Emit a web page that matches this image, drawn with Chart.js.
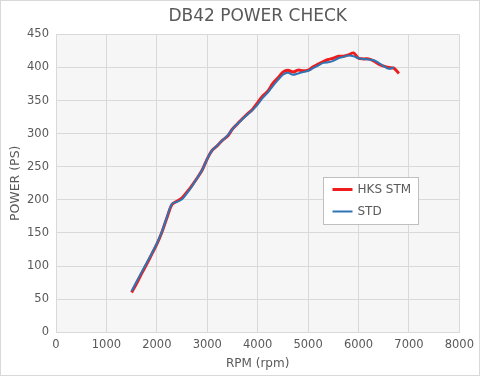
<!DOCTYPE html>
<html>
<head>
<meta charset="utf-8">
<script src="https://cdn.jsdelivr.net/npm/chart.js@4"></script>
<style>
html,body{margin:0;padding:0;background:#fff;}
#wrap{width:480px;height:376px;position:relative;}
</style>
</head>
<body>
<div id="wrap"><canvas id="c" width="480" height="376"></canvas></div>
<script>
const TITLE = "DB42 POWER CHECK";
const X_TITLE = "RPM (rpm)";
const Y_TITLE = "POWER (PS)";
const SERIES_NAMES = ["HKS STM", "STD"];

const rpmHKS = [1500,1600,1700,1800,1900,2000,2100,2200,2300,2400,2500,2600,2700,2800,2900,3000,3100,3200,3300,3400,3500,3600,3700,3800,3900,4000,4100,4200,4300,4400,4500,4600,4700,4800,4900,5000,5100,5200,5300,5400,5500,5600,5700,5800,5900,6000,6100,6200,6300,6400,6500,6600,6700,6800];
const psHKS  = [60,74,89,103,118,133,151,173,193,198,203,212,222,233,245,262,275,282,290,296,307,315,323,330,337,347,357,364,376,384,393,396,393,396,395,396,401,405,409,412,414,417,417,419,422,414,413,413,410,405,402,400,399,391];

const rpmSTD = [1500,1600,1700,1800,1900,2000,2100,2200,2300,2400,2500,2600,2700,2800,2900,3000,3100,3200,3300,3400,3500,3600,3700,3800,3900,4000,4100,4200,4300,4400,4500,4600,4700,4800,4900,5000,5100,5200,5300,5400,5500,5600,5700,5800,5900,6000,6100,6200,6300,6400,6500,6600,6700];
const psSTD  = [62,77,91,105,119,134,152,174,194,197,201,210,221,233,245,262,275,282,290,297,307,315,322,329,336,344,354,362,372,381,389,392,389,391,393,395,399,403,407,408,410,414,416,418,417,414,413,412,411,407,402,398,400];

const X_MIN = 0, X_MAX = 8000, X_STEP = 1000;
const Y_MIN = 0, Y_MAX = 450, Y_STEP = 50;

const FONT = "'DejaVu Sans', Verdana, sans-serif";
const TXT = "#595959";

function pts(xs, ys){ return xs.map((x,i)=>({x:x, y:ys[i]})); }

const bgPlugin = {
  id:'bg',
  beforeDraw(chart){
    const {ctx, chartArea:a, width, height} = chart;
    ctx.save();
    ctx.fillStyle = '#ffffff';
    ctx.fillRect(0,0,width,height);
    ctx.strokeStyle = '#d9d9d9';
    ctx.lineWidth = 1;
    ctx.strokeRect(0.5,0.5,width-1,height-1);
    ctx.fillStyle = '#f6f6f6';
    ctx.fillRect(a.left, a.top, a.right-a.left, a.bottom-a.top);
    ctx.restore();
  }
};

const legendPlugin = {
  id:'inlegend',
  afterDatasetsDraw(chart){
    const {ctx, chartArea:a} = chart;
    const w = a.right - a.left, h = a.bottom - a.top;
    const bx = Math.round(a.left + w*0.663) + 0.5;
    const by = Math.round(a.top + h*0.478) + 0.5;
    const bw = 95, bh = 47;
    ctx.save();
    ctx.fillStyle = '#ffffff';
    ctx.fillRect(bx, by, bw, bh);
    ctx.strokeStyle = '#bfbfbf';
    ctx.lineWidth = 1;
    ctx.strokeRect(bx, by, bw, bh);
    ctx.font = "12px " + FONT;
    ctx.textBaseline = 'middle';
    chart.data.datasets.forEach((ds, i)=>{
      const ly = by + 12 + i*22;
      ctx.strokeStyle = ds.borderColor;
      ctx.lineWidth = ds.borderWidth;
      ctx.beginPath();
      ctx.moveTo(bx + 9, ly);
      ctx.lineTo(bx + 29, ly);
      ctx.stroke();
      ctx.fillStyle = TXT;
      ctx.fillText(ds.label, bx + 34, ly);
    });
    ctx.restore();
  }
};

new Chart(document.getElementById('c'), {
  type:'line',
  data:{
    datasets:[
      {label:SERIES_NAMES[0], data:pts(rpmHKS, psHKS), borderColor:'#ee1c1c', borderWidth:3, pointRadius:0, tension:0.3, fill:false, order:1},
      {label:SERIES_NAMES[1], data:pts(rpmSTD, psSTD), borderColor:'#2e75b6', borderWidth:2, pointRadius:0, tension:0.3, fill:false, order:0}
    ]
  },
  options:{
    responsive:false,
    animation:false,
    devicePixelRatio:1,
    layout:{padding:{left:2, right:20, top:0, bottom:6}},
    plugins:{
      legend:{display:false},
      tooltip:{enabled:false},
      title:{display:true, fullSize:false, text:TITLE, color:TXT, font:{family:FONT, size:17, weight:'normal'}, padding:{top:6, bottom:8}}
    },
    scales:{
      x:{
        type:'linear', min:X_MIN, max:X_MAX,
        ticks:{stepSize:X_STEP, color:TXT, font:{family:FONT, size:11.5}, padding:6, maxRotation:0, callback:(v)=>String(v)},
        grid:{color:'#d9d9d9', lineWidth:1, drawTicks:false},
        border:{color:'#d9d9d9'},
        title:{display:true, text:X_TITLE, color:TXT, font:{family:FONT, size:12, lineHeight:1.0}, padding:{top:0, bottom:0}}
      },
      y:{
        min:Y_MIN, max:Y_MAX,
        afterFit:(s)=>{ s.width = 54; },
        ticks:{stepSize:Y_STEP, color:TXT, font:{family:FONT, size:11.5}, padding:7, callback:(v)=>String(v)},
        grid:{color:'#d9d9d9', lineWidth:1, drawTicks:false},
        border:{color:'#d9d9d9'},
        title:{display:true, text:Y_TITLE, color:TXT, font:{family:FONT, size:12.5}, padding:{top:6, bottom:0}}
      }
    }
  },
  plugins:[bgPlugin, legendPlugin]
});
</script>
</body>
</html>
